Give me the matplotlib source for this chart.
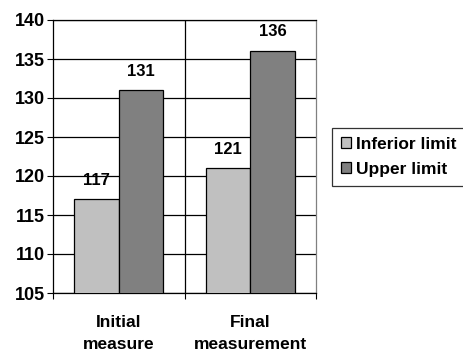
import matplotlib
matplotlib.use("Agg")
import matplotlib.pyplot as plt
import numpy as np

categories = ["Initial\nmeasure", "Final\nmeasurement"]
series_names = ["Inferior limit", "Upper limit"]
inferior = [117, 121]
upper = [131, 136]
yticks = [105, 110, 115, 120, 125, 130, 135, 140]

plt.rcParams['font.family'] = ['Liberation Sans', 'DejaVu Sans']
plt.rcParams['font.weight'] = 'bold'

fig = plt.figure(figsize=(4.63, 3.51), dpi=100)
ax = fig.add_axes([53/463, 1-293/351, (316-53)/463, (293-20)/351])

x = np.arange(len(categories))
w = 0.338
b1 = ax.bar(x - w/2, inferior, w, color="#C0C0C0", edgecolor="black", linewidth=0.9, label=series_names[0], zorder=3)
b2 = ax.bar(x + w/2, upper, w, color="#808080", edgecolor="black", linewidth=0.9, label=series_names[1], zorder=3)

for bars, vals in ((b1, inferior), (b2, upper)):
    for r, v in zip(bars, vals):
        ax.text(r.get_x() + r.get_width()/2, v + 1.5, str(v), ha="center", va="bottom",
                fontsize=12, fontweight="bold", color="black")

ax.set_ylim(105, 140)
ax.set_xlim(-0.5, 1.5)
ax.set_yticks(yticks)
ax.yaxis.grid(True, color="black", linewidth=0.9, zorder=0)
ax.axvline(0.5, color="black", linewidth=0.9, zorder=0)
ax.set_xticks([-0.5, 0.5, 1.5])
ax.set_xticklabels([])
ax.set_xticks(x, minor=True)
ax.set_xticklabels(categories, minor=True, fontsize=12.5, fontweight="bold", linespacing=1.6)
ax.tick_params(axis="x", which="minor", length=0, pad=16)
ax.tick_params(axis="x", which="major", length=4, direction="out", color="black")
ax.tick_params(axis="y", length=4, direction="out", labelsize=13, pad=2)
for lab in ax.get_yticklabels():
    lab.set_fontweight("bold")
for s in ax.spines.values():
    s.set_color("black")
    s.set_linewidth(0.9)
ax.spines["right"].set_color("#808080")

leg = fig.legend(loc="upper left", bbox_to_anchor=(332/463, 1-128/351), frameon=True,
                 fancybox=False, edgecolor="black", handlelength=0.6,
                 handleheight=0.6, handletextpad=0.3, borderpad=0.5, labelspacing=0.6,
                 borderaxespad=0, prop={"weight": "bold", "size": 12.5})
leg.get_frame().set_linewidth(0.9)

fig.savefig("out.png", dpi=100)
